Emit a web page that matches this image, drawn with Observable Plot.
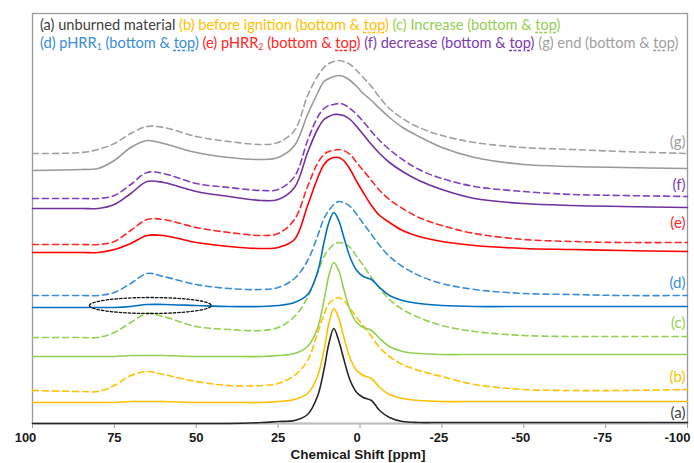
<!DOCTYPE html>
<html><head><meta charset="utf-8">
<script src="https://cdn.jsdelivr.net/npm/d3@7"></script>
<script src="https://cdn.jsdelivr.net/npm/@observablehq/plot@0.6"></script>
<style>
body{margin:0;background:#fff}
#wrap{position:relative;width:694px;height:463px}
#legend{position:absolute;left:40px;top:16px;font-family:Lato,"Open Sans",sans-serif;font-size:13px;line-height:18px;white-space:nowrap}
#legend sub{font-size:0.6em;vertical-align:-0.25em;line-height:0}
.u{text-decoration-line:underline;text-decoration-style:dashed;text-underline-offset:2px}
</style></head><body>
<div id="wrap"><div id="chart"></div><div id="legend"></div></div>
<script>
// chemical shift grid (ppm)
const ppm = [100, 85, 80, 75, 70, 65, 60, 50, 40, 30, 25, 20, 16, 13, 11, 9.5, 8, 6.5, 5, 3, 1, -1, -3.5, -6, -9, -13, -18, -25, -35, -50, -65, -80, -100];

// stacked intensities (arbitrary units, offset included)
const aSolid  = [0,0,0,0,0,0,0,0,0,1,2,3,9,27,54,80,95,83,65,43,31,26,23,13,6,2,1,1,1,1,1,1,1];
const bSolid  = [21,21,21,21,22,22,22,21,21,21,22,24,30,47,73,100,115,105,87,65,53,48,45,36,29,25,23,22,22,22,22,22,22];
const bDashed = [33,32,32,38,48,52,49,42,38,38,40,48,63,90,109,120,124,126,123,115,106,98,87,76,67,59,53,47,39,34,33,33,34];
const cSolid  = [67,67,67,67,68,68,68,67,67,67,68,70,77,95,123,148,161,153,135,113,101,96,93,85,77,72,70,69,69,69,69,69,69];
const cDashed = [86,86,86,91,101,110,107,97,94,93,96,107,126,150,167,174,179,181,180,176,167,158,146,135,124,114,106,98,92,88,87,87,87];
const dSolid  = [116,116,116,116,117,119,119,118,117,117,118,121,129,151,181,201,211,203,187,166,153,147,144,136,128,123,120,118,117,117,117,117,117];
const dDashed = [128,128,128,131,140,150,147,139,135,134,136,145,163,187,205,213,219,222,221,217,209,200,189,178,167,157,148,140,134,130,129,128,128];
const eSolid  = [171,171,171,174,180,188,188,181,177,175,176,184,218,245,259,264,266,266,263,254,242,231,218,208,201,193,187,182,178,175,174,173,172];
const eDashed = [179,179,179,182,193,204,204,196,191,188,190,204,237,260,269,272,273,274,273,269,261,253,243,233,224,215,206,198,190,184,182,181,181];
const fSolid  = [215,215,215,219,230,242,241,232,227,223,224,236,271,294,304,307,309,309,308,304,297,289,279,270,261,252,243,234,225,220,218,217,216];
const fDashed = [225,225,225,228,239,251,250,240,236,233,234,247,283,306,315,318,319,320,319,315,309,302,292,283,274,264,254,245,237,232,229,228,227];
const gSolid  = [253,254,255,263,276,283,280,271,266,264,266,278,309,330,342,345,347,348,347,343,337,330,323,315,306,296,287,276,266,259,257,256,255];
const gDashed = [270,271,274,280,290,297,296,287,282,279,281,293,328,347,356,360,362,363,362,359,353,346,337,326,315,305,296,288,281,276,274,272,270];

const xTicks = [100, 75, 50, 25, 0, -25, -50, -75, -100];
const seriesKeys = ["(a)", "(b)", "(c)", "(d)", "(e)", "(f)", "(g)"];
const seriesNames = ["unburned material", "before ignition", "Increase", "pHRR<sub>1</sub>", "pHRR<sub>2</sub>", "decrease", "end"];
const labelLevels = [10, 46, 100, 140, 200, 238, 281];
const ellipseCenter = [64, 118];
const ellipseRadius = [18.6, 8];

const textColors = ["#404040", "#FFC000", "#92D050", "#3A8DD6", "#FF2626", "#7A3AB0", "#A0A0A0"];

const series = [
  {values: aSolid,  color: "#262626", dash: false},
  {values: bDashed, color: "#FFC000", dash: true},
  {values: bSolid,  color: "#FFC000", dash: false},
  {values: cDashed, color: "#92D050", dash: true},
  {values: cSolid,  color: "#92D050", dash: false},
  {values: dDashed, color: "#3A8DD6", dash: true},
  {values: dSolid,  color: "#0070C0", dash: false},
  {values: eDashed, color: "#FF2626", dash: true},
  {values: eSolid,  color: "#FF0000", dash: false},
  {values: fDashed, color: "#7F3FBF", dash: true},
  {values: fSolid,  color: "#7030A0", dash: false},
  {values: gDashed, color: "#A0A0A0", dash: true},
  {values: gSolid,  color: "#999999", dash: false}
];

const lineMarks = series.map(s => Plot.line(ppm.map((p, i) => ({x: p, y: s.values[i]})), {
  x: "x", y: "y", stroke: s.color, strokeWidth: 1.6,
  strokeDasharray: s.dash ? "6,4" : null, curve: "catmull-rom"
}));

const ellipsePts = d3.range(0, 361, 4).map(t => ({
  x: ellipseCenter[0] + ellipseRadius[0] * Math.cos(t * Math.PI / 180),
  y: ellipseCenter[1] + ellipseRadius[1] * Math.sin(t * Math.PI / 180)
}));

const labels = seriesKeys.map((k, i) => ({k, y: labelLevels[i], c: textColors[i]}));

const tickFont = {fontWeight: "bold", fontSize: 13, fontFamily: "Liberation Sans, Arial, sans-serif", fill: "#1a1a1a", frameAnchor: "bottom", dy: 14, lineAnchor: "middle"};

const chart = Plot.plot({
  width: 694, height: 463,
  marginLeft: 32, marginRight: 7, marginTop: 13, marginBottom: 40,
  x: {domain: [100, -100], axis: null},
  y: {domain: [0, 410], axis: null},
  style: {background: "#fff", overflow: "visible"},
  marks: [
    Plot.frame({stroke: "#9a9a9a", strokeWidth: 1.3}),
    Plot.axisX(xTicks, {tickSize: 5, tickFormat: () => "", stroke: "#9a9a9a", anchor: "bottom", label: null}),
    Plot.ruleY([0], {stroke: "#BFBFBF", strokeWidth: 2}),
    ...lineMarks,
    Plot.line(ellipsePts, {x: "x", y: "y", stroke: "#111", strokeWidth: 1.3, strokeDasharray: "2.5,2"}),
    Plot.text(labels, {y: "y", text: "k", fill: "c", frameAnchor: "right", textAnchor: "end", dx: -2, fontSize: 15, fontFamily: "Lato, sans-serif"}),
    Plot.text(xTicks.filter(d => d > 0 && d < 100), {x: d => d, text: d => String(d), ...tickFont}),
    Plot.text(xTicks.filter(d => d <= 0 && d > -100), {x: d => d, text: d => String(d), ...tickFont, dx: -3}),
    Plot.text(xTicks.filter(d => d === 100), {x: d => d, text: d => String(d), ...tickFont, dx: -7}),
    Plot.text(xTicks.filter(d => d === -100), {x: d => d, text: d => String(d), ...tickFont, dx: -10}),
    Plot.text(["Chemical Shift [ppm]"], {x: () => 0, text: d => d, frameAnchor: "bottom", dy: 31, dx: -2, fontWeight: "bold", fontSize: 13.5, fontFamily: "Liberation Sans, Arial, sans-serif", fill: "#1a1a1a", lineAnchor: "middle"})
  ]
});
document.getElementById("chart").appendChild(chart);

// legend (inside the frame, as HTML text)
const leg = document.getElementById("legend");
const span = (i, withTop) => {
  const txt = `${seriesKeys[i]} ${seriesNames[i]}` + (withTop ? ` (bottom &amp; <span class="u">top</span>)` : "");
  return `<span style="color:${textColors[i]}">${txt}</span>`;
};
const line1 = [0, 1, 2].map(i => span(i, i > 0)).join(" ");
const line2 = [3, 4, 5, 6].map(i => span(i, true)).join(" ");
leg.innerHTML = `<div id="l1">${line1}</div><div id="l2">${line2}</div>`;
const w2 = document.getElementById("l2").getBoundingClientRect().width;
const target = 639;
leg.style.fontSize = (13 * target / w2).toFixed(2) + "px";
</script></body></html>
